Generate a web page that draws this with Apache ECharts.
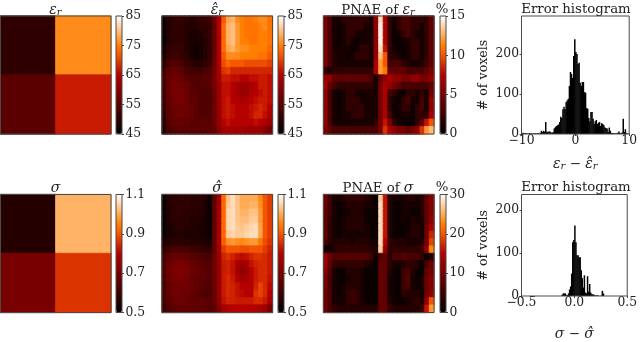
<!DOCTYPE html>
<html><head><meta charset="utf-8">
<style>html,body{margin:0;padding:0;background:#fff}#c{width:640px;height:342px}</style>
<script src="https://cdn.jsdelivr.net/npm/echarts@6/dist/echarts.min.js"></script></head>
<body><div id="c"></div>
<script>
const epsTrue=[[50,76],[55,67]];
const sigmaTrue=[[56,101],[70,86]];
const epsHat=[
[47,49,50,51,51,50,49,50,51,51,52,57,64,72,78,79,76,75,74,74,75,76,76,74],
[47,49,50,50,50,49,49,49,50,50,51,56,64,73,79,80,77,75,74,74,74,75,76,74],
[46,49,50,50,50,49,48,48,49,50,51,56,64,73,79,80,77,75,74,74,74,75,75,74],
[46,49,50,50,50,49,48,48,48,49,51,56,64,73,79,80,77,75,75,74,74,75,75,74],
[47,50,51,51,51,49,48,47,48,49,51,56,64,73,78,79,77,76,76,75,75,75,75,73],
[48,51,52,52,51,50,48,47,48,49,51,56,64,72,76,76,76,75,75,75,75,74,74,72],
[50,53,54,54,53,51,50,49,49,50,52,57,64,71,73,72,72,72,71,71,71,71,71,70],
[52,55,56,56,55,53,52,52,52,53,54,58,63,69,70,68,68,68,68,68,68,68,68,68],
[53,56,57,57,56,55,54,54,54,55,55,58,63,67,67,66,66,65,65,66,66,67,67,66],
[53,56,58,58,57,56,55,54,54,54,55,58,62,66,66,65,63,62,62,63,65,67,67,66],
[52,56,58,58,58,57,55,55,54,54,54,57,62,66,66,65,63,62,62,64,65,66,67,66],
[52,56,57,58,58,57,55,55,54,54,54,57,62,66,67,65,64,63,64,65,66,67,67,66],
[51,55,57,57,57,57,56,55,54,54,54,57,62,66,67,66,65,65,65,66,67,68,67,65],
[50,55,56,57,57,57,56,55,54,54,54,57,61,66,67,66,65,65,65,66,68,68,66,64],
[50,54,56,56,56,56,55,55,55,55,55,57,61,65,66,65,65,65,65,65,66,65,64,62],
[49,53,54,55,55,55,55,55,55,55,55,56,60,63,63,63,63,63,62,62,62,62,60,58]];
const sigmaHat=[
[52,56,57,57,58,58,57,57,57,56,52,66,76,92,103,106,103,100,100,100,100,96,90,87],
[52,56,57,58,58,58,57,57,57,55,52,66,76,92,104,106,103,100,100,101,101,97,90,87],
[52,55,57,58,58,57,57,57,56,55,52,66,77,92,105,106,103,101,101,103,103,98,90,87],
[51,55,57,57,57,57,56,56,56,54,52,66,77,92,105,106,103,102,102,104,104,98,90,87],
[51,54,56,57,57,56,56,56,55,54,52,66,77,92,105,106,104,103,104,105,106,99,90,87],
[52,54,55,56,56,55,55,55,55,54,53,66,77,92,104,105,104,104,105,106,106,99,90,87],
[55,56,57,57,57,57,56,56,56,55,55,66,77,91,97,98,97,96,97,98,98,94,89,86],
[58,60,62,62,62,62,60,60,59,58,58,67,76,87,90,90,90,89,89,90,90,90,87,84],
[62,65,67,67,67,66,65,64,63,62,62,68,75,84,86,84,82,81,82,84,86,86,85,83],
[63,67,69,70,70,69,67,66,65,64,64,68,75,83,84,82,78,76,77,82,84,85,85,83],
[63,68,70,71,71,70,68,67,66,65,64,68,74,83,84,82,77,74,75,80,83,85,85,83],
[63,67,70,70,70,69,67,66,65,65,64,68,74,83,85,83,79,76,77,80,83,85,85,82],
[62,66,68,69,69,69,68,66,65,64,63,68,74,83,85,84,82,80,80,80,84,88,85,81],
[62,66,68,68,68,68,66,65,64,63,63,67,74,83,85,84,82,81,80,80,86,88,85,80],
[62,65,67,68,68,67,66,66,66,65,65,67,73,82,84,84,83,83,83,83,85,85,83,78],
[60,63,65,66,66,66,66,66,66,65,64,66,71,77,79,80,80,80,80,79,79,78,76,70]];
const pnaeEps=[
[5,3,1,1,2,2,2,2,2,2,1,6,14,7,2,1,2,3,3,2,2,2,2,4],
[5,3,1,.5,1,2,2,2,2,1,1,6,14.5,7,2,.5,2,3,3,2,2,1,2,4],
[5,3,1,.5,1,2,2,1,1,1,1,6,14.5,7,2,.5,1,2,3,2,1,1,2,4],
[5,3,1,.5,1,2,1,.5,1,1,1,6,14.5,7,2,.5,.5,1,1,2,2,1,2,4],
[5,3,1,1,1,1,.5,1,2,2,1,6,14,8,2,1,.5,.5,1,2,2,1,2,4],
[5,3,1.5,1,1,.5,1,2,2,2,1,6,13,10,2,1.5,1,.5,1,2,2,1,2,4],
[5,3,1.5,1,1,1,1,1,1,1,1,7,12,10,3,3,3,2,1.5,1,1,1.5,2.5,4],
[2,1,2,2,2,2,2,2,2,2,2,7,12,11,4,4,4,4,3,3,3,3,4,5],
[6,6,4,4,4,4,4,4,4,4,3,1,4,6,7,6,6,5,5,6,6,5,5,6],
[7,4,3,2,2,2,2,2,2,2,2,1,5,7,6,5,4,3,3,3,3,3,3,4],
[6,3,1,.5,1,2,2,1,1,1,1,1,5,7,3,2,1,.5,2,2,1,2,1,5],
[6,3,1,.5,1,2,2,2,1,1,1,1,5,7,2,1,.5,2,3,1,1,3,1,6],
[6,3,1,.5,1,2,2,2,2,1,1,1,5,7,2,.5,1,2,2,.5,2,3,1,6],
[6,3,1,.5,1,1,2,2,2,1,1,1,5,7,3,1,.5,1,1,.5,2,2,2,7],
[6,3,1,1,1,1,1,1,1,1,1,2,5,8,5,2,1,.5,.5,.5,2,4,8,10],
[5,4,3,3,3,3,3,3,3,3,3,3,5,9,7,6,5,5,4,5,6,9,12,13]];
const pnaeSigma=[
[9,5,2,2,3,4,4,4,4,3,2,1,27,16,3,2,2,2,3,3,2,3,8,11],
[9,5,2,1,2,3,3,3,3,2,2,1,28,16,3,1,1,2,2,2,2,3,8,11],
[8,5,2,1,1,2,3,3,3,1,1,1,28,16,3,1,1,2,2,1,1,3,8,11],
[8,4,2,1,2,3,3,3,3,1,1,1,28,16,3,1,1,2,1,3,2,2,8,12],
[8,4,2,1,2,3,3,3,3,2,1,1,28,16,3,1,1,1,1,3,3,2,9,14],
[8,4,2,1,2,2,2,2,2,2,1,1,28,16,3,1,1,1,2,3,3,2,9,17],
[6,3,3,3,3,3,2,3,3,3,2,2,28,15,4,3,3,3,2,2,2,3,10,19],
[1,2,3,4,4,4,4,4,4,4,3,3,27,12,4,4,4,4,4,4,4,5,12,23],
[13,9,7,7,7,7,7,7,7,7,5,1,7,8,4,6,6,7,6,6,6,4,1,3],
[13,8,4,4,4,4,4,4,4,3,2,1,8,8,4,2,2,3,4,4,3,1,6,9],
[11,7,2,1,1,3,3,3,2,1,1,1,8,8,3,1,1,5,6,3,1,1,8,10],
[10,6,2,1,1,2,3,3,2,1,1,1,8,8,2,1,1,5,7,2,1,2,9,11],
[10,6,2,1,2,3,3,3,2,1,1,1,8,8,2,1,1,5,6,2,1,2,9,11],
[9,6,2,1,2,4,5,4,2,1,1,1,8,8,2,1,1,4,3,3,3,2,9,12],
[9,6,2,2,2,4,5,4,2,1,1,1,8,8,3,1,1,1,2,3,4,3,12,20],
[9,6,4,3,3,3,3,3,3,3,3,3,8,8,4,3,3,3,3,3,3,5,16,24]];
const histEps=[2,3,1,2,2,1,1,2,1,1,1,1,2,1,1,2,1,3,8,5,8,6,30,6,5,6,6,4,3,5,14,17,20,22,24,30,43,40,62,68,62,80,84,88,120,155,150,140,195,237,205,200,175,178,128,120,130,130,105,103,65,63,40,32,55,55,38,25,32,35,25,28,30,20,27,25,22,16,15,14,5,16,8,3,2,2,1,2,1,3,6,2,2,4,38,5,12,2,1,1];
const histSigma=[0,0,0,0,0,0,0,0,0,0,0,0,0,0,0,0,0,0,0,0,0,0,0,0,0,0,0,0,0,0,0,0,0,0,0,0,0,0,3,6,6,6,2,2,6,15,22,52,125,130,164,125,95,95,90,90,60,42,20,48,8,6,46,10,28,8,4,4,3,2,1,1,2,0,0,1,12,6,0,0,0,0,0,0,0,0,0,0,0,0,0,0,0,0,0,0,0,0,0,0];
const epsTicks=[45,55,65,75,85];
const sigmaTicks=[0.5,0.7,0.9,1.1];
const pnaeEpsTicks=[0,5,10,15];
const pnaeSigmaTicks=[0,10,20,30];
const histEpsYTicks=[0,100,200];
const histSigmaYTicks=[0,100,200];
const histEpsXTicks=[-10,0,10];
const histSigmaXTicks=[-0.5,0,0.5];

const FONT='"DejaVu Serif"';
const FS=12.3, TS=13.3, INK='#222', FRAME='#4a4a4a';
function heatColor(x){x=Math.max(0,Math.min(1,x));
 const r=Math.min(1,x/0.7),g=Math.max(0,2*x-1),b=Math.max(0,4*x-3);
 return 'rgb('+[r,g,b].map(v=>Math.round(v*255)).join(',')+')';}
const COLORS=[];for(let i=0;i<=40;i++)COLORS.push(heatColor(i/40));
const RICH={i:{fontFamily:FONT,fontStyle:'italic',fontSize:14,color:INK},
 s:{fontFamily:FONT,fontStyle:'italic',fontSize:10,color:INK,verticalAlign:'bottom',lineHeight:13},
 n:{fontFamily:FONT,fontSize:13.5,color:INK}};
const opt={animation:false,backgroundColor:'#fff',title:[],grid:[],xAxis:[],yAxis:[],series:[],visualMap:[]};
function tt(text,x,y){opt.title.push({text,left:x,top:y,textAlign:'center',padding:0,itemGap:0,
 textStyle:{fontFamily:FONT,fontSize:TS,fontWeight:'normal',color:INK,rich:RICH}});}
function heat(rows,x,y,w,h,vmin,vmax,cbx,ticks,tickFmt,tmin,tmax){
 const g=opt.grid.length;
 opt.grid.push({left:x,top:y,width:w,height:h,show:true,borderColor:FRAME,borderWidth:1,backgroundColor:'transparent',z:5});
 const d=[];
 rows.forEach((r,j)=>r.forEach((v,i)=>d.push({value:[i,j,v],
   itemStyle:{borderWidth:0.7,borderColor:heatColor((v-vmin)/(vmax-vmin))}})));
 opt.xAxis.push({gridIndex:g,type:'category',show:false,data:rows[0].map((_,i)=>i)});
 opt.yAxis.push({gridIndex:g,type:'category',show:false,inverse:true,data:rows.map((_,i)=>i)});
 const si=opt.series.length;
 opt.series.push({type:'heatmap',xAxisIndex:g,yAxisIndex:g,data:d,silent:true,progressive:0});
 opt.visualMap.push({type:'continuous',seriesIndex:si,min:vmin,max:vmax,left:cbx,top:y,itemWidth:6,itemHeight:h,padding:0,
  calculable:false,realtime:false,hoverLink:false,text:['',''],textGap:0,inRange:{color:COLORS},textStyle:{fontSize:1,color:'transparent'},z:1});
 const c=opt.grid.length;
 opt.grid.push({left:cbx,top:y,width:6,height:h,show:true,borderColor:FRAME,borderWidth:1,backgroundColor:'transparent',z:5});
 opt.xAxis.push({gridIndex:c,type:'value',show:false,min:0,max:1});
 opt.yAxis.push({gridIndex:c,type:'value',position:'right',min:tmin,max:tmax,splitLine:{show:false},axisLine:{show:false,onZero:false},
  axisTick:{show:true,length:2,customValues:ticks,lineStyle:{color:FRAME,width:1}},
  axisLabel:{customValues:ticks,margin:3.5,formatter:tickFmt,fontFamily:FONT,fontSize:FS,color:INK,showMinLabel:true,showMaxLabel:true,hideOverlap:false}});
}
function hist(counts,x,y,w,h,xmin,xmax,binW,ymax,xt,yt,xFmt,xName,nameGap){
 const g=opt.grid.length;
 opt.grid.push({left:x,top:y,width:w,height:h,show:true,borderColor:FRAME,borderWidth:1,backgroundColor:'transparent',z:5});
 opt.xAxis.push({gridIndex:g,type:'value',min:xmin,max:xmax,splitLine:{show:false},axisLine:{show:false,onZero:false},
  axisTick:{show:true,length:2,customValues:xt,lineStyle:{color:FRAME}},
  axisLabel:{customValues:xt,margin:1,formatter:xFmt,fontFamily:FONT,fontSize:FS,color:INK,hideOverlap:false},
  name:xName,nameLocation:'middle',nameGap,nameTextStyle:{rich:RICH,fontFamily:FONT,fontSize:13.5,color:INK}});
 opt.yAxis.push({gridIndex:g,type:'value',min:0,max:ymax,splitLine:{show:false},axisLine:{show:false,onZero:false},
  axisTick:{show:true,length:2,customValues:yt,lineStyle:{color:FRAME}},
  axisLabel:{customValues:yt,margin:2.5,fontFamily:FONT,fontSize:FS,color:INK,hideOverlap:false},
  name:'# of voxels',nameLocation:'middle',nameRotate:90,nameGap:31,nameTextStyle:{fontFamily:FONT,fontSize:12.6,color:INK}});
 opt.series.push({type:'bar',xAxisIndex:g,yAxisIndex:g,barWidth:1.5,silent:true,itemStyle:{color:'#000'},
  data:counts.map((v,i)=>[xmin+binW*(i+0.5),v])});
}
const minus=v=>String(v).replace('-','\u2212');
const f1=v=>minus(Number(v).toFixed(1));
const H=118, T1=16, T2=194.5, W=110.5;
const cols=[0.5,162,323.5], cbs=[116,278,440];
heat(epsTrue,cols[0],T1,W,H,45,85,cbs[0],epsTicks,v=>v,45,85);
heat(epsHat,cols[1],T1,W,H,45,85,cbs[1],epsTicks,v=>v,45,85);
heat(pnaeEps,cols[2],T1,W,H,0,15,cbs[2],pnaeEpsTicks,v=>v,0,15);
heat(sigmaTrue,cols[0],T2,W,H,50,110,cbs[0],sigmaTicks,f1,0.5,1.1);
heat(sigmaHat,cols[1],T2,W,H,50,110,cbs[1],sigmaTicks,f1,0.5,1.1);
heat(pnaeSigma,cols[2],T2,W,H,0,30,cbs[2],pnaeSigmaTicks,v=>v,0,30);
hist(histEps,521.5,T1,109.5,H,-10,10,0.2,295,histEpsXTicks,histEpsYTicks,minus,'{i|ε}{s|r}{n| − }{i|ε̂}{s|r}',23);
hist(histSigma,521.5,T2,109.5,H,-0.5,0.5,0.01,236,histSigmaXTicks,histSigmaYTicks,f1,'{i|σ}{n| − }{i|σ̂}',31);
tt('{i|ε}{s|r}',55.5,3);
tt('{i|ε̂}{s|r}',217,3);
tt('PNAE of {i|ε}{s|r}',378,3.5);
tt('%',442,3);
tt('Error histogram',576,3.5);
tt('{i|σ}',55.5,181.5);
tt('{i|σ̂}',217,181.5);
tt('PNAE of {i|σ}',378,181.5);
tt('%',442,181);
tt('Error histogram',576,181);
echarts.init(document.getElementById('c'),null,{renderer:'canvas'}).setOption(opt);
</script></body></html>
